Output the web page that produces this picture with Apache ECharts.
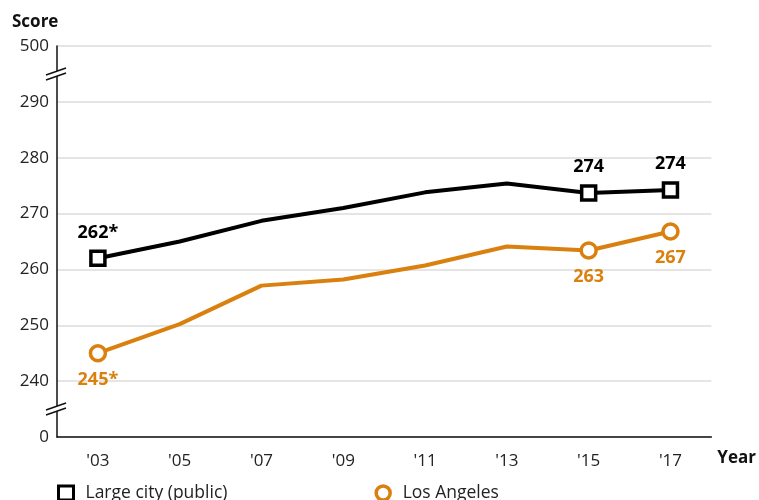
<!DOCTYPE html>
<html>
<head>
<meta charset="utf-8">
<script src="https://cdn.jsdelivr.net/npm/echarts@6/dist/echarts.min.js"></script>
<style>
  html, body { margin: 0; padding: 0; background: #fff; }
  #chart { width: 759px; height: 500px; }
</style>
</head>
<body>
<div id="chart"></div>
<script>
// data
const years = ["'03", "'05", "'07", "'09", "'11", "'13", "'15", "'17"];
const largeCity = [262, 265, 268.7, 271, 273.8, 275.4, 273.7, 274.2];
const losAngeles = [245, 250.2, 257.1, 258.2, 260.7, 264.1, 263.4, 266.8];
const largeCityLabels = ['262*', '', '', '', '', '', '274', '274'];
const losAngelesLabels = ['245*', '', '', '', '', '', '263', '267'];
// broken axis: 0 drawn at 230, 500 drawn at 300
const yTicks = { 230: '0', 240: '240', 250: '250', 260: '260', 270: '270', 280: '280', 290: '290', 300: '500' };

const FONT = '"Open Sans", "Noto Sans", sans-serif';
const ORANGE = '#d9800e';

function buildData(values, labels, symbol, color, pos) {
  return values.map((v, i) => {
    if (!labels[i]) return { value: v, symbol: 'none' };
    return {
      value: v,
      symbol: symbol,
      symbolSize: symbol === 'rect' ? 14 : 15,
      itemStyle: { color: '#fff', borderColor: color, borderWidth: 3.5 },
      label: {
        show: true,
        position: pos,
        distance: 8,
        formatter: labels[i],
        color: color,
        fontSize: 18,
        fontWeight: 'bold',
        fontFamily: FONT
      }
    };
  });
}

const chart = echarts.init(document.getElementById('chart'));
chart.setOption({
  animation: false,
  grid: { left: 57, right: 46, top: 46, bottom: 63 },
  legend: {
    left: 52,
    top: 479,
    itemGap: 147,
    itemWidth: 15,
    itemHeight: 14,
    textStyle: { fontSize: 17.5, color: '#222', fontFamily: FONT, padding: [0, 0, 0, 7] },
    data: [
      { name: 'Large city (public)', icon: 'rect', itemStyle: { color: '#fff', borderColor: '#000', borderWidth: 3 } },
      { name: 'Los Angeles', icon: 'circle', itemStyle: { color: '#fff', borderColor: ORANGE, borderWidth: 3.5 } }
    ]
  },
  xAxis: {
    type: 'category',
    data: years,
    boundaryGap: true,
    name: 'Year',
    nameLocation: 'end',
    nameGap: 6,
    nameTextStyle: { fontSize: 17, fontWeight: 'bold', color: '#111', fontFamily: FONT, verticalAlign: 'top', padding: [13, 0, 0, 0] },
    axisLine: { lineStyle: { color: '#111', width: 1.5 } },
    axisTick: { alignWithLabel: true, length: 6, lineStyle: { color: '#111', width: 1.5 } },
    axisLabel: { fontSize: 17, color: '#222', margin: 16, fontFamily: FONT }
  },
  yAxis: {
    type: 'value',
    min: 230,
    max: 300,
    interval: 10,
    name: 'Score',
    nameLocation: 'end',
    nameGap: 15,
    nameTextStyle: { fontSize: 17, fontWeight: 'bold', color: '#111', fontFamily: FONT, align: 'left', padding: [0, 0, 0, -45] },
    axisLine: { show: true, lineStyle: { color: '#111', width: 1.5 } },
    axisTick: { show: false },
    axisLabel: { fontSize: 17, color: '#222', margin: 8, fontFamily: FONT, formatter: v => yTicks[v] },
    splitLine: { lineStyle: { color: '#dcdcdc', width: 1.5 } }
  },
  series: [
    {
      name: 'Large city (public)',
      type: 'line',
      z: 3,
      lineStyle: { color: '#000', width: 4 },
      itemStyle: { color: '#000' },
      data: buildData(largeCity, largeCityLabels, 'rect', '#000', 'top')
    },
    {
      name: 'Los Angeles',
      type: 'line',
      z: 2,
      lineStyle: { color: ORANGE, width: 4 },
      itemStyle: { color: ORANGE },
      data: buildData(losAngeles, losAngelesLabels, 'circle', ORANGE, 'bottom')
    }
  ]
});

// axis break marks, placed through the axis scale
function breakMark(val) {
  const p = chart.convertToPixel({ gridIndex: 0 }, [0, val]);
  const x = 57, y = p[1];
  return [
    { type: 'polygon', shape: { points: [[x - 11, y + 1], [x + 9, y - 6], [x + 9, y - 1], [x - 11, y + 6]] }, style: { fill: '#fff' }, z: 10 },
    { type: 'line', shape: { x1: x - 11, y1: y + 1, x2: x + 9, y2: y - 6 }, style: { stroke: '#111', lineWidth: 1.5 }, z: 11 },
    { type: 'line', shape: { x1: x - 11, y1: y + 6, x2: x + 9, y2: y - 1 }, style: { stroke: '#111', lineWidth: 1.5 }, z: 11 }
  ];
}
chart.setOption({ graphic: [...breakMark(295), ...breakMark(235)] });
</script>
</body>
</html>
